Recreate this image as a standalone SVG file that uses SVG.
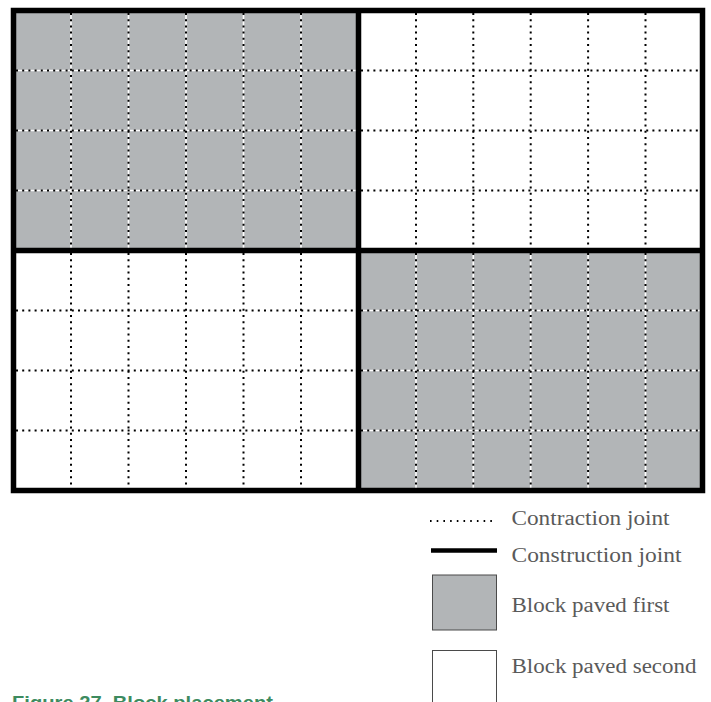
<svg xmlns="http://www.w3.org/2000/svg" width="711" height="702" viewBox="0 0 711 702">
<style>
.first{fill:#b2b5b7}
.second{fill:#ffffff}
.under{stroke:#ffffff;stroke-width:1.6;fill:none}
.dot{stroke:#000000;stroke-width:2;stroke-dasharray:2 4.2;fill:none}
.thick{stroke:#000000;stroke-width:5.5;fill:none}
.lbl{font-family:"Liberation Serif","Times New Roman",serif;font-size:20px;fill:#5a5a5a}
.cap{font-family:"Liberation Sans",Arial,sans-serif;font-weight:bold;font-size:19px;fill:#3d8b5f}
</style>
<rect width="711" height="702" fill="#ffffff"/>
<g id="blocks">
<rect id="block-tl" class="first" x="13.5" y="10.5" width="345" height="240"/>
<rect id="block-tr" class="second" x="358.5" y="10.5" width="344" height="240"/>
<rect id="block-bl" class="second" x="13.5" y="250.5" width="345" height="240"/>
<rect id="block-br" class="first" x="358.5" y="250.5" width="344" height="240"/>
</g>
<g id="contraction-joints">
<path class="under" d="M16 70.5H356M16 130.5H356M16 190.5H356M71 13V248M128.5 13V248M186 13V248M243.5 13V248M301 13V248"/>
<path class="under" d="M361 310.5H700M361 370.5H700M361 430.5H700M416 253V488M473.3 253V488M530.7 253V488M588.1 253V488M645.5 253V488"/>
<path class="dot" d="M16 70.5H356M16 130.5H356M16 190.5H356M361 70.5H700M361 130.5H700M361 190.5H700M16 310.5H356M16 370.5H356M16 430.5H356M361 310.5H700M361 370.5H700M361 430.5H700"/>
<path class="dot" d="M71 13V248M128.5 13V248M186 13V248M243.5 13V248M301 13V248M416 13V248M473.3 13V248M530.7 13V248M588.1 13V248M645.5 13V248M71 253V488M128.5 253V488M186 253V488M243.5 253V488M301 253V488M416 253V488M473.3 253V488M530.7 253V488M588.1 253V488M645.5 253V488"/>
</g>
<g id="construction-joints">
<rect class="thick" x="13.5" y="10.5" width="689" height="480"/>
<path class="thick" d="M358.5 10.5V490.5M13.5 250.5H702.5"/>
</g>
<g id="legend">
<g id="legend-contraction">
<line x1="430" y1="521" x2="497" y2="521" stroke="#000" stroke-width="1.8" stroke-dasharray="1.6 5.1"/>
<text class="lbl" x="511.5" y="525" textLength="158" lengthAdjust="spacingAndGlyphs">Contraction joint</text>
</g>
<g id="legend-construction">
<line x1="431" y1="550.5" x2="497" y2="550.5" stroke="#000" stroke-width="4.5"/>
<text class="lbl" x="511.5" y="561.5" textLength="170" lengthAdjust="spacingAndGlyphs">Construction joint</text>
</g>
<g id="legend-first">
<rect x="432.5" y="575" width="64" height="55" fill="#b2b5b7" stroke="#4a4a4a" stroke-width="1"/>
<text class="lbl" x="511.5" y="611.5" textLength="158" lengthAdjust="spacingAndGlyphs">Block paved first</text>
</g>
<g id="legend-second">
<rect x="432.5" y="650.5" width="64" height="56" fill="#ffffff" stroke="#4a4a4a" stroke-width="1"/>
<text class="lbl" x="511.5" y="673.3" textLength="185" lengthAdjust="spacingAndGlyphs">Block paved second</text>
</g>
</g>
<g id="caption">
<text class="cap" x="12" y="709" textLength="261" lengthAdjust="spacingAndGlyphs">Figure 27. Block placement</text>
</g>
</svg>
